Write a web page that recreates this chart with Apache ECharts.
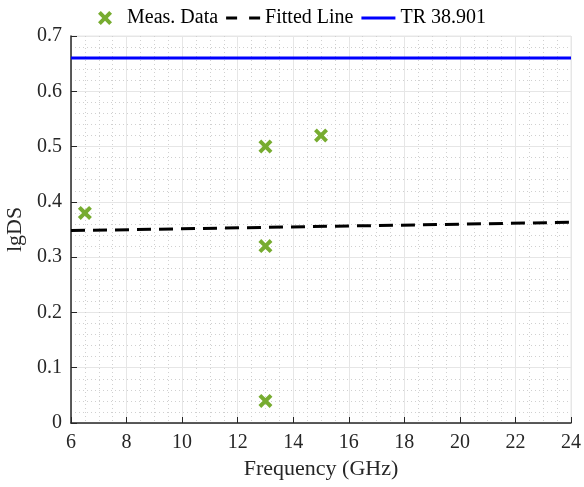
<!DOCTYPE html>
<html><head><meta charset="utf-8">
<script src="https://cdn.jsdelivr.net/npm/echarts@6/dist/echarts.min.js"></script>
<style>html,body{margin:0;padding:0;background:#fff}#c{width:584px;height:487px}</style>
</head><body><div id="c"></div>
<script>
var measFreq = [6.5, 13, 13, 13, 15];
var measVal = [0.38, 0.50, 0.32, 0.04, 0.52];
var fitFreq = [6, 24];
var fitVal = [0.348, 0.363];
var trFreq = [6, 24];
var trVal = [0.66, 0.66];
var xTicks = [6, 8, 10, 12, 14, 16, 18, 20, 22, 24];
var yTicks = [0, 0.1, 0.2, 0.3, 0.4, 0.5, 0.6, 0.7];

var FONT = 'Liberation Serif';
var xShape = 'path://M0,2 L2,0 L5,3 L8,0 L10,2 L7,5 L10,8 L8,10 L5,7 L2,10 L0,8 L3,5 Z';
var dashIcon = 'path://M0,0 L0.01,0 L0.01,0.01 Z M34,14 L33.99,14 L33.99,13.99 Z M0,5.5 L11,5.5 L11,8.5 L0,8.5 Z M23,5.5 L34,5.5 L34,8.5 L23,8.5 Z';
var solidIcon = 'path://M0,0 L0.01,0 L0.01,0.01 Z M34,14 L33.99,14 L33.99,13.99 Z M0,5.5 L34,5.5 L34,8.5 L0,8.5 Z';
function pairs(a, b) { return a.map(function (v, i) { return [v, b[i]]; }); }

var chart = echarts.init(document.getElementById('c'));
chart.setOption({
  animation: false,
  textStyle: { fontFamily: FONT },
  legend: {
    top: 3, left: 'center', itemGap: 8, itemWidth: 34, itemHeight: 14,
    textStyle: { fontFamily: FONT, fontSize: 20, color: '#000' },
    data: [
      { name: 'Meas. Data', icon: xShape, itemStyle: { color: '#77AC30', opacity: 1 } },
      { name: 'Fitted Line', icon: dashIcon, itemStyle: { color: '#000' } },
      { name: 'TR 38.901', icon: solidIcon, itemStyle: { color: '#0000FF' } }
    ]
  },
  grid: { left: 71, right: 13, top: 36, bottom: 64, containLabel: false, outerBoundsMode: 'none' },
  xAxis: {
    type: 'value', min: xTicks[0], max: xTicks[xTicks.length - 1], interval: 2,
    name: 'Frequency (GHz)', nameLocation: 'middle', nameGap: 35,
    nameTextStyle: { fontFamily: FONT, fontSize: 22, color: '#262626' },
    axisLine: { show: true, onZero: false, lineStyle: { color: '#262626', width: 1.5 } },
    axisTick: { show: true, inside: true, length: 6, lineStyle: { color: '#262626' } },
    axisLabel: { fontFamily: FONT, fontSize: 20, color: '#262626', margin: 10 },
    splitLine: { show: true, lineStyle: { color: '#e6e6e6', width: 1 } },
    minorTick: { show: false, splitNumber: 4 },
    minorSplitLine: { show: true, lineStyle: { color: '#d0d0d0', type: [1, 3], width: 1 } }
  },
  yAxis: {
    type: 'value', min: yTicks[0], max: yTicks[yTicks.length - 1], interval: 0.1,
    name: 'lgDS', nameLocation: 'middle', nameGap: 41, nameRotate: 90,
    nameTextStyle: { fontFamily: FONT, fontSize: 22, color: '#262626' },
    axisLine: { show: true, onZero: false, lineStyle: { color: '#262626', width: 1.5 } },
    axisTick: { show: true, inside: true, length: 6, lineStyle: { color: '#262626' } },
    axisLabel: { fontFamily: FONT, fontSize: 20, color: '#262626', margin: 9,
      formatter: function (v) { return String(Math.round(v * 10) / 10); } },
    splitLine: { show: true, lineStyle: { color: '#e6e6e6', width: 1 } },
    minorTick: { show: false, splitNumber: 5 },
    minorSplitLine: { show: true, lineStyle: { color: '#d0d0d0', type: [1, 3], width: 1 } }
  },
  series: [
    { name: 'Meas. Data', type: 'scatter', symbol: xShape, symbolSize: 14,
      itemStyle: { color: '#77AC30', opacity: 1 }, data: pairs(measFreq, measVal), z: 5 },
    { name: 'Fitted Line', type: 'line', showSymbol: false, symbol: 'none',
      lineStyle: { color: '#000', width: 3, type: [14, 8] }, itemStyle: { color: '#000' },
      data: pairs(fitFreq, fitVal), z: 3 },
    { name: 'TR 38.901', type: 'line', showSymbol: false, symbol: 'none',
      lineStyle: { color: '#0000FF', width: 3 }, itemStyle: { color: '#0000FF' },
      data: pairs(trFreq, trVal), z: 3 }
  ],
  graphic: [
    { type: 'line', shape: { x1: 71, y1: 36, x2: 571, y2: 36 }, style: { stroke: '#e6e6e6', lineWidth: 1 } },
    { type: 'line', shape: { x1: 571, y1: 36, x2: 571, y2: 423 }, style: { stroke: '#e6e6e6', lineWidth: 1 } }
  ]
});
</script></body></html>
